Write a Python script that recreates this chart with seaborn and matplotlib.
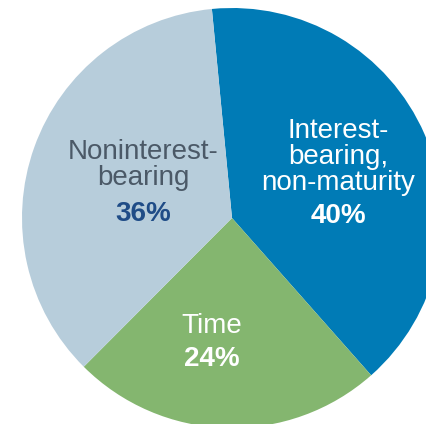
import matplotlib
matplotlib.use("Agg")
import matplotlib.pyplot as plt
import seaborn as sns

# deposit mix
categories = ["Interest-\nbearing,\nnon-maturity", "Time", "Noninterest-\nbearing"]
shares = [40, 24, 36]
pct_labels = ["40%", "24%", "36%"]
slice_colors = ["#007BB6", "#84B66F", "#B7CDDB"]
name_colors = ["white", "white", "#4B5967"]
pct_colors = ["white", "white", "#1F4C87"]

sns.set_theme(style="white")
plt.rcParams['font.family'] = ['Liberation Sans', 'DejaVu Sans']

W, H = 426, 424
fig = plt.figure(figsize=(W / 100, H / 100), dpi=100)
ax = fig.add_axes([0, 0, 1, 1])

# pie in pixel-like data units so it can run off the right/bottom edge
cx, cy, r = 232, H - 218, 210
ax.pie(shares, colors=slice_colors, startangle=95.5, counterclock=False,
       center=(cx, cy), radius=r, wedgeprops=dict(linewidth=0))

# label anchors: (x centre, baseline of first line, line step, baseline of pct)
anchors = [(338, 138, 26, 223), (212, 333, 26, 366), (143, 159, 26, 221)]
for (x, y0, step, yp), name, pct, nc, pc in zip(anchors, categories, pct_labels,
                                                name_colors, pct_colors):
    for i, line in enumerate(name.split("\n")):
        ax.text(x, H - (y0 + i * step), line, ha="center", va="baseline",
                fontsize=20, color=nc)
    ax.text(x, H - yp, pct, ha="center", va="baseline", fontsize=20,
            fontweight="bold", color=pc)

ax.set_xlim(0, W)
ax.set_ylim(0, H)
ax.set_aspect("equal")
ax.axis("off")

fig.savefig("out.png", dpi=100)
